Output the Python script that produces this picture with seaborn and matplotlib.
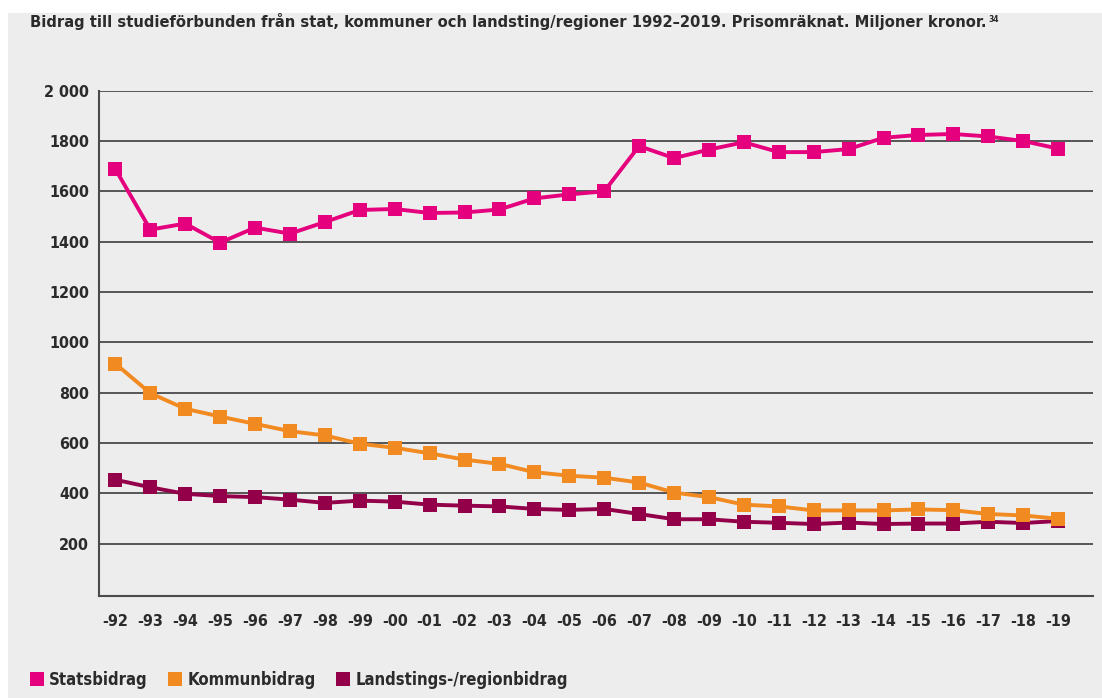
import matplotlib
matplotlib.use("Agg")
import matplotlib.pyplot as plt
from matplotlib.patches import Rectangle
from matplotlib.lines import Line2D
import seaborn as sns
import pandas as pd

# ---- data ----
year_labels = ["-92", "-93", "-94", "-95", "-96", "-97", "-98", "-99", "-00", "-01",
               "-02", "-03", "-04", "-05", "-06", "-07", "-08", "-09", "-10", "-11",
               "-12", "-13", "-14", "-15", "-16", "-17", "-18", "-19"]
statsbidrag = [1688, 1448, 1472, 1396, 1456, 1432, 1478, 1526, 1530, 1514,
               1516, 1528, 1572, 1588, 1600, 1780, 1732, 1766, 1795, 1756,
               1756, 1768, 1813, 1824, 1828, 1818, 1800, 1770]
kommunbidrag = [915, 798, 736, 705, 676, 647, 630, 597, 581, 559,
                534, 517, 484, 470, 462, 443, 403, 385, 355, 348,
                332, 332, 332, 336, 333, 318, 312, 299]
landstingsbidrag = [454, 424, 398, 389, 385, 375, 362, 371, 367, 355,
                    351, 348, 338, 334, 338, 318, 297, 297, 287, 283,
                    278, 284, 278, 280, 280, 287, 282, 290]
series_names = ["Statsbidrag", "Kommunbidrag", "Landstings-/regionbidrag"]
y_ticks = [200, 400, 600, 800, 1000, 1200, 1400, 1600, 1800, 2000]
y_tick_labels = ["200", "400", "600", "800", "1000", "1200", "1400", "1600", "1800", "2 000"]
title_text = ("Bidrag till studieförbunden från stat, kommuner och landsting/regioner "
              "1992–2019. Prisomräknat. Miljoner kronor.")
footnote = "34"

colors = {"Statsbidrag": "#e5007d",
          "Kommunbidrag": "#f28a22",
          "Landstings-/regionbidrag": "#930049"}

df = pd.DataFrame({
    "år": year_labels * 3,
    "serie": [series_names[0]] * len(year_labels)
             + [series_names[1]] * len(year_labels)
             + [series_names[2]] * len(year_labels),
    "värde": statsbidrag + kommunbidrag + landstingsbidrag,
})

sns.set_theme(style="white")
plt.rcParams["font.family"] = ["DejaVu Sans"]
plt.rcParams["font.stretch"] = "condensed"
plt.rcParams["font.weight"] = "bold"
txtcol = "#2b2b2b"
bg = "#ededed"

fig = plt.figure(figsize=(11.02, 6.98), dpi=100, facecolor="white")
fig.patches.append(Rectangle((8 / 1102, 0), 1, 1 - 13 / 698, transform=fig.transFigure,
                             facecolor=bg, edgecolor="none", zorder=-10))
ax = fig.add_axes([99 / 1102, 1 - 596 / 698, (1093 - 99) / 1102, (596 - 90.7) / 698])
ax.set_facecolor(bg)

sns.lineplot(data=df, x="år", y="värde", hue="serie",
             hue_order=[series_names[0], series_names[2], series_names[1]],
             palette=colors, style="serie", markers={n: "s" for n in series_names},
             dashes=False, markersize=10, markeredgewidth=0, linewidth=2.8,
             legend=False, ax=ax, sort=False)

ax.set_xlim(-0.47, len(year_labels) - 1 + 1.0)
ax.set_ylim(-8, 2000)
ax.set_yticks(y_ticks)
ax.set_yticklabels(y_tick_labels)
ax.set_xticks(range(len(year_labels)))
ax.set_xticklabels(year_labels)
ax.set_xlabel("")
ax.set_ylabel("")

ax.yaxis.grid(True, color="#4a4a4a", linewidth=1.3)
ax.xaxis.grid(False)
ax.set_axisbelow(True)
for s in ["top", "right"]:
    ax.spines[s].set_visible(False)
for s in ["left", "bottom"]:
    ax.spines[s].set_color("#4a4a4a")
    ax.spines[s].set_linewidth(1.5)

ax.tick_params(axis="y", length=0, pad=7, labelsize=11.5, labelcolor=txtcol)
ax.tick_params(axis="x", direction="in", length=8.5, width=1.2, color="#4a4a4a",
               pad=13, labelsize=11.5, labelcolor=txtcol)
ax.xaxis.get_major_ticks()[0].tick1line.set_visible(False)
for lab in ax.get_xticklabels() + ax.get_yticklabels():
    lab.set_fontweight("bold")

t = fig.text(30 / 1102, 1 - 21 / 698, title_text, fontsize=11.8, fontweight="bold",
             color=txtcol, va="center", ha="left")
ax.annotate(footnote, xy=(1, 1), xycoords=t, xytext=(1.5, -2), textcoords="offset points",
            fontsize=6, color=txtcol, va="top", ha="left")

handles = [Line2D([], [], marker="s", linestyle="none", markersize=10,
                  markerfacecolor=colors[n], markeredgewidth=0) for n in series_names]
fig.legend(handles, series_names, loc="center left", bbox_to_anchor=(14 / 1102, 1 - 680 / 698),
           ncol=3, frameon=False, handletextpad=0.22, columnspacing=1.15,
           prop={"size": 12, "weight": "bold"}, labelcolor=txtcol, handlelength=1.0)

fig.savefig("out.png", dpi=100, facecolor="white")
